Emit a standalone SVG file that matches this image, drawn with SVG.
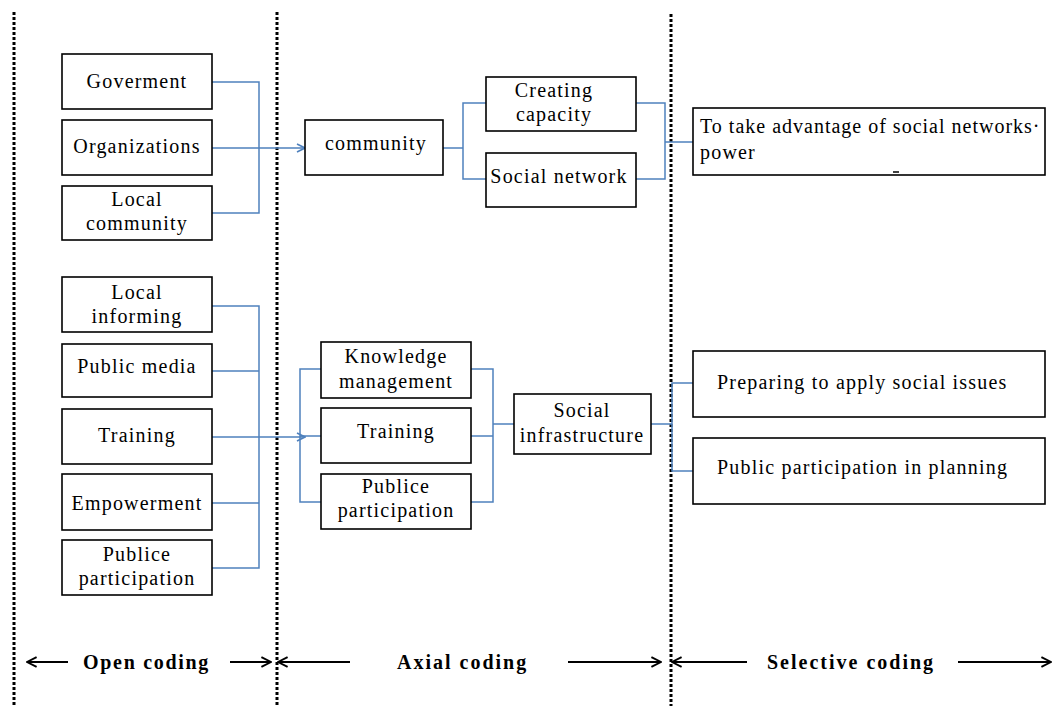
<svg xmlns="http://www.w3.org/2000/svg" width="1059" height="706" viewBox="0 0 1059 706">
<style>
.box{fill:#fff;stroke:#000;stroke-width:1.6}
.t{font-family:"Liberation Serif","Times New Roman",serif;font-size:20px;letter-spacing:1.2px;fill:#000}
.m{text-anchor:middle}
.b{font-family:"Liberation Serif","Times New Roman",serif;font-size:20px;font-weight:bold;letter-spacing:2px;fill:#000}
.c{fill:none;stroke:#4f81bd;stroke-width:1.5}
.dot{stroke:#000;stroke-width:3;stroke-dasharray:3 2;fill:none}
.ar{fill:none;stroke:#000;stroke-width:2}
</style>
<defs>
<marker id="ah" viewBox="0 0 10 10" refX="9" refY="5" markerWidth="10" markerHeight="10" markerUnits="userSpaceOnUse" orient="auto">
<path d="M1,1 L9,5 L1,9" fill="none" stroke="#4f81bd" stroke-width="1.6"/>
</marker>
<marker id="bh" viewBox="0 0 10 10" refX="9" refY="5" markerWidth="12" markerHeight="12" markerUnits="userSpaceOnUse" orient="auto">
<path d="M1,1 L9,5 L1,9" fill="none" stroke="#000" stroke-width="1.6"/>
</marker>
</defs>
<rect width="1059" height="706" fill="#fff"/>
<g id="dividers">
<line class="dot" x1="14" y1="12" x2="14" y2="706"/>
<line class="dot" x1="277" y1="12" x2="277" y2="706"/>
<line class="dot" x1="671" y1="14" x2="671" y2="706"/>
</g>
<g id="connectors">
<path class="c" d="M212,82 H259 V213 H212 M212,148 H305" marker-end="url(#ah)"/>
<path class="c" d="M443,148 H463 M486,103 H463 V179 H486"/>
<path class="c" d="M636,103 H665 V179 H636 M665,142 H693"/>
<path class="c" d="M212,306 H259 V568 H212 M212,371 H259 M212,503 H259 M212,437 H305" marker-end="url(#ah)"/>
<path class="c" d="M321,369 H300 V502 H321 M300,436 H321"/>
<path class="c" d="M471,369 H493 V502 H471 M471,436 H493 M493,424 H514"/>
<path class="c" d="M651,424 H672 M693,383 H672 V471 H693"/>
</g>
<g id="n-goverment"><rect class="box" x="62" y="54" width="150" height="55"/><text class="t m" x="137" y="88">Goverment</text></g>
<g id="n-organizations"><rect class="box" x="62" y="120" width="150" height="55"/><text class="t m" x="137" y="153">Organizations</text></g>
<g id="n-localcommunity"><rect class="box" x="62" y="186" width="150" height="54"/><text class="t m" x="137" y="206">Local</text><text class="t m" x="137" y="230">community</text></g>
<g id="n-localinforming"><rect class="box" x="62" y="277" width="150" height="55"/><text class="t m" x="137" y="299">Local</text><text class="t m" x="137" y="323">informing</text></g>
<g id="n-publicmedia"><rect class="box" x="62" y="344" width="150" height="53"/><text class="t m" x="137" y="373">Public media</text></g>
<g id="n-training1"><rect class="box" x="62" y="409" width="150" height="55"/><text class="t m" x="137" y="442">Training</text></g>
<g id="n-empowerment"><rect class="box" x="62" y="474" width="150" height="56"/><text class="t m" x="137" y="510">Empowerment</text></g>
<g id="n-publice1"><rect class="box" x="62" y="540" width="150" height="55"/><text class="t m" x="137" y="561">Publice</text><text class="t m" x="137" y="585">participation</text></g>
<g id="n-community"><rect class="box" x="305" y="120" width="138" height="55"/><text class="t m" x="376" y="150">community</text></g>
<g id="n-creating"><rect class="box" x="486" y="77" width="150" height="54"/><text class="t m" x="554" y="97">Creating</text><text class="t m" x="554" y="121">capacity</text></g>
<g id="n-socialnetwork"><rect class="box" x="486" y="153" width="150" height="54"/><text class="t m" x="559" y="183">Social network</text></g>
<g id="n-knowledge"><rect class="box" x="321" y="342" width="150" height="56"/><text class="t m" x="396" y="363">Knowledge</text><text class="t m" x="396" y="388">management</text></g>
<g id="n-training2"><rect class="box" x="321" y="408" width="150" height="55"/><text class="t m" x="396" y="438">Training</text></g>
<g id="n-publice2"><rect class="box" x="321" y="474" width="150" height="55"/><text class="t m" x="396" y="493">Publice</text><text class="t m" x="396" y="517">participation</text></g>
<g id="n-socialinfra"><rect class="box" x="514" y="394" width="137" height="60"/><text class="t m" x="582" y="417">Social</text><text class="t m" x="582" y="442">infrastructure</text></g>
<g id="n-takeadvantage"><rect class="box" x="693" y="108" width="352" height="67"/><text class="t" x="700" y="133" style="letter-spacing:1px">To take advantage of social networks·</text><text class="t" x="700" y="159">power</text><line x1="893" y1="172" x2="899" y2="172" stroke="#000" stroke-width="1.5"/></g>
<g id="n-preparing"><rect class="box" x="693" y="351" width="352" height="66"/><text class="t" x="717" y="389">Preparing to apply social issues</text></g>
<g id="n-planning"><rect class="box" x="693" y="438" width="352" height="66"/><text class="t" x="717" y="474">Public participation in planning</text></g>
<g id="phase-labels">
<line class="ar" x1="68" y1="662" x2="27" y2="662" marker-end="url(#bh)"/>
<line class="ar" x1="230" y1="662" x2="271" y2="662" marker-end="url(#bh)"/>
<line class="ar" x1="350" y1="662" x2="278" y2="662" marker-end="url(#bh)"/>
<line class="ar" x1="568" y1="662" x2="661" y2="662" marker-end="url(#bh)"/>
<line class="ar" x1="747" y1="662" x2="672" y2="662" marker-end="url(#bh)"/>
<line class="ar" x1="958" y1="662" x2="1051" y2="662" marker-end="url(#bh)"/>
<text class="b" x="83" y="669" style="letter-spacing:1.7px">Open coding</text>
<text class="b" x="397" y="669">Axial coding</text>
<text class="b" x="767" y="669">Selective coding</text>
</g>
</svg>
